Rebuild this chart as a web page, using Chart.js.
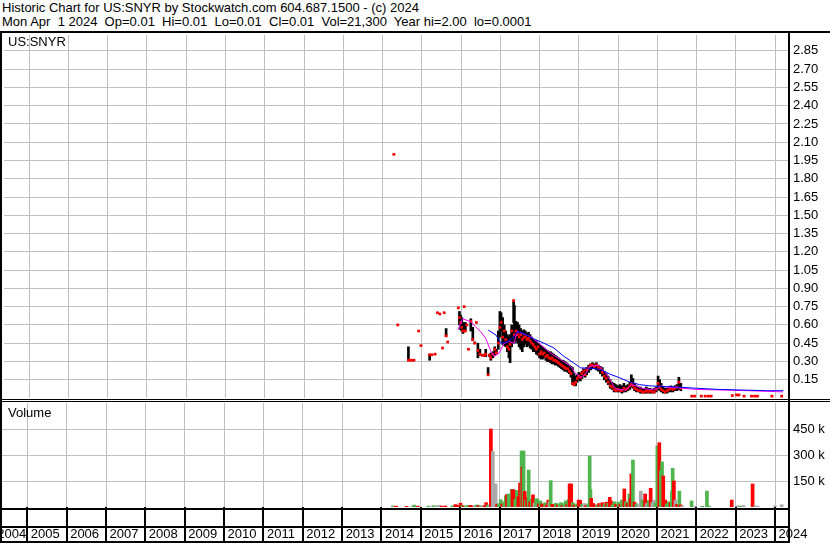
<!DOCTYPE html>
<html lang="en">
<head>
  <meta charset="UTF-8" />
  <title>Historic Chart for US:SNYR</title>
  <script src="https://cdn.jsdelivr.net/npm/chart.js"></script>
  <style>
    * { box-sizing: border-box; margin: 0; padding: 0; }
    body {
      width: 830px; height: 543px; position: relative; overflow: hidden;
      background: #fff; color: #000;
      font-family: 'Liberation Sans', Arial, sans-serif; font-size: 13px;
    }
    .header { position: absolute; left: 2px; top: 1px; line-height: 14.4px; white-space: pre; }
    .label { position: absolute; left: 8px; line-height: 14.4px; }
    canvas { position: absolute; left: 0; }
    .rule { position: absolute; background: #000; }
  </style>
</head>
<body>

<div class="header">Historic Chart for US:SNYR by Stockwatch.com 604.687.1500 - (c) 2024
Mon Apr  1 2024  Op=0.01  Hi=0.01  Lo=0.01  Cl=0.01  Vol=21,300  Year hi=2.00  lo=0.0001</div>

<canvas id="priceChart" width="830" height="371" style="top:31px"></canvas>
<canvas id="volumeChart" width="830" height="141" style="top:402px"></canvas>

<div class="label" style="top:35px">US:SNYR</div>
<div class="label" style="top:406px">Volume</div>

<!-- frame -->
<div class="rule" style="left:0;top:31px;width:830px;height:2px"></div>
<div class="rule" style="left:0;top:31px;width:2px;height:512px"></div>
<div class="rule" style="left:788px;top:31px;width:2px;height:512px"></div>
<div class="rule" style="left:0;top:399px;width:830px;height:1px"></div>
<div class="rule" style="left:0;top:401px;width:830px;height:1px"></div>
<div class="rule" style="left:0;top:508px;width:790px;height:2px"></div>
<div class="rule" style="left:0;top:526px;width:790px;height:2px"></div>
<div class="rule" style="left:0;top:541px;width:790px;height:2px"></div>

<script>
  // time axis in decimal years
  const xStart = 2004.357;
  const xEnd = 2024.33;
  const years = [2004, 2005, 2006, 2007, 2008, 2009, 2010, 2011, 2012, 2013, 2014,
                 2015, 2016, 2017, 2018, 2019, 2020, 2021, 2022, 2023, 2024];
  const firstYearLabelAt = 2004.15; // the 2004 cell is cut by the left edge

  const priceTicks = [0.15, 0.30, 0.45, 0.60, 0.75, 0.90, 1.05, 1.20, 1.35, 1.50,
                      1.65, 1.80, 1.95, 2.10, 2.25, 2.40, 2.55, 2.70, 2.85];
  const volumeTicks = [150000, 300000, 450000];

  // daily bars (sampled): date, high, low, close
  const priceDates = [
    2014.29, 2014.39, 2014.66, 2014.71, 2014.76, 2014.80, 2014.92, 2014.98,
    2015.20, 2015.26, 2015.34, 2015.40, 2015.46, 2015.53, 2015.57, 2015.62, 2015.66,
    2015.93, 2015.96, 2015.99, 2016.02, 2016.05, 2016.08, 2016.11, 2016.15, 2016.19,
    2016.25, 2016.30, 2016.35, 2016.39, 2016.43, 2016.48, 2016.54, 2016.60, 2016.63,
    2016.69, 2016.72, 2016.76, 2016.81, 2016.86, 2016.90, 2016.95, 2016.99,
    2017.02, 2017.06, 2017.10, 2017.14, 2017.18, 2017.22, 2017.25, 2017.29, 2017.34,
    2017.36, 2017.40, 2017.44, 2017.48, 2017.52, 2017.56, 2017.60, 2017.64, 2017.68,
    2017.72, 2017.76, 2017.80, 2017.84, 2017.88, 2017.92, 2017.96,
    2018.00, 2018.04, 2018.08, 2018.12, 2018.16, 2018.20, 2018.24, 2018.28, 2018.32,
    2018.36, 2018.40, 2018.44, 2018.48, 2018.52, 2018.56, 2018.60, 2018.64, 2018.68,
    2018.72, 2018.76, 2018.80, 2018.84, 2018.88, 2018.92, 2018.96,
    2019.00, 2019.04, 2019.08, 2019.12, 2019.16, 2019.20, 2019.25, 2019.30, 2019.35,
    2019.40, 2019.45, 2019.50, 2019.55, 2019.60, 2019.65, 2019.70, 2019.75, 2019.80,
    2019.85, 2019.90, 2019.95,
    2020.00, 2020.05, 2020.10, 2020.15, 2020.20, 2020.25, 2020.30, 2020.34, 2020.38,
    2020.42, 2020.47, 2020.52, 2020.57, 2020.62, 2020.67, 2020.72, 2020.77, 2020.82,
    2020.87, 2020.92, 2020.97,
    2021.02, 2021.06, 2021.10, 2021.15, 2021.20, 2021.25, 2021.30, 2021.35, 2021.40,
    2021.45, 2021.50, 2021.55, 2021.60,
    2021.88, 2021.95, 2022.12, 2022.22, 2022.30, 2022.37,
    2022.91, 2023.02, 2023.08, 2023.21, 2023.40, 2023.48, 2023.55, 2023.92, 2024.17
  ];
  const priceHigh = [
    2.00, 0.60, 0.42, 0.31, 0.31, 0.31, 0.55, 0.43,
    0.36, 0.355, 0.36, 0.70, 0.69, 0.41, 0.70, 0.57, 0.46,
    0.74, 0.71, 0.68, 0.66, 0.62, 0.75, 0.62, 0.60, 0.40,
    0.65, 0.58, 0.46, 0.62, 0.45, 0.40, 0.36, 0.36, 0.40,
    0.25, 0.36, 0.37, 0.38, 0.42, 0.40, 0.55, 0.71,
    0.70, 0.66, 0.60, 0.55, 0.52, 0.50, 0.52, 0.60, 0.80,
    0.76, 0.63, 0.62, 0.60, 0.57, 0.55, 0.56, 0.55, 0.53,
    0.54, 0.52, 0.50, 0.48, 0.47, 0.47, 0.45,
    0.44, 0.43, 0.42, 0.41, 0.40, 0.39, 0.38, 0.38, 0.37,
    0.36, 0.35, 0.34, 0.33, 0.32, 0.31, 0.31, 0.30, 0.29,
    0.28, 0.27, 0.26, 0.25, 0.20, 0.18, 0.19,
    0.21, 0.20, 0.22, 0.24, 0.23, 0.25, 0.27, 0.28, 0.29,
    0.28, 0.29, 0.27, 0.26, 0.25, 0.22, 0.20, 0.18, 0.15,
    0.13, 0.12, 0.11,
    0.10, 0.11, 0.10, 0.12, 0.10, 0.11, 0.13, 0.19, 0.16,
    0.12, 0.10, 0.09, 0.09, 0.08, 0.08, 0.09, 0.08, 0.08,
    0.07, 0.08, 0.09,
    0.18, 0.15, 0.12, 0.09, 0.08, 0.08, 0.09, 0.10, 0.09,
    0.10, 0.11, 0.17, 0.12,
    0.02, 0.02, 0.02, 0.02, 0.02, 0.02,
    0.02, 0.03, 0.03, 0.02, 0.02, 0.02, 0.02, 0.02, 0.02
  ];
  const priceLow = [
    2.00, 0.60, 0.31, 0.31, 0.31, 0.31, 0.55, 0.43,
    0.31, 0.355, 0.36, 0.70, 0.69, 0.41, 0.70, 0.505, 0.46,
    0.74, 0.60, 0.56, 0.55, 0.53, 0.75, 0.55, 0.60, 0.40,
    0.55, 0.47, 0.45, 0.62, 0.33, 0.35, 0.35, 0.34, 0.34,
    0.19, 0.34, 0.31, 0.33, 0.35, 0.36, 0.40, 0.50,
    0.55, 0.44, 0.43, 0.42, 0.38, 0.33, 0.29, 0.42, 0.62,
    0.45, 0.47, 0.45, 0.42, 0.40, 0.38, 0.42, 0.44, 0.42,
    0.43, 0.41, 0.40, 0.38, 0.38, 0.36, 0.35,
    0.33, 0.32, 0.32, 0.33, 0.31, 0.30, 0.30, 0.29, 0.28,
    0.28, 0.27, 0.27, 0.26, 0.25, 0.24, 0.23, 0.22, 0.22,
    0.21, 0.20, 0.17, 0.11, 0.10, 0.10, 0.13,
    0.15, 0.14, 0.16, 0.18, 0.17, 0.19, 0.21, 0.23, 0.24,
    0.24, 0.23, 0.22, 0.20, 0.18, 0.15, 0.13, 0.11, 0.08,
    0.07, 0.05, 0.05,
    0.05, 0.05, 0.04, 0.05, 0.05, 0.06, 0.07, 0.09, 0.08,
    0.06, 0.05, 0.05, 0.04, 0.04, 0.04, 0.04, 0.04, 0.04,
    0.04, 0.04, 0.05,
    0.07, 0.06, 0.05, 0.04, 0.04, 0.04, 0.05, 0.05, 0.05,
    0.06, 0.06, 0.07, 0.06,
    0.015, 0.015, 0.015, 0.015, 0.015, 0.015,
    0.02, 0.025, 0.025, 0.015, 0.015, 0.015, 0.015, 0.015, 0.015
  ];
  const priceClose = [
    2.00, 0.60, 0.31, 0.31, 0.31, 0.31, 0.55, 0.43,
    0.355, 0.355, 0.36, 0.70, 0.69, 0.41, 0.70, 0.51, 0.46,
    0.74, 0.66, 0.62, 0.58, 0.55, 0.75, 0.55, 0.60, 0.40,
    0.63, 0.48, 0.45, 0.62, 0.39, 0.36, 0.35, 0.35, 0.36,
    0.19, 0.35, 0.33, 0.36, 0.40, 0.37, 0.45, 0.58,
    0.62, 0.50, 0.55, 0.48, 0.42, 0.40, 0.44, 0.55, 0.80,
    0.52, 0.55, 0.52, 0.50, 0.52, 0.48, 0.50, 0.50, 0.48,
    0.49, 0.47, 0.45, 0.44, 0.42, 0.40, 0.42,
    0.36, 0.38, 0.36, 0.37, 0.34, 0.35, 0.33, 0.32, 0.33,
    0.31, 0.31, 0.30, 0.29, 0.28, 0.27, 0.26, 0.25, 0.24,
    0.24, 0.22, 0.20, 0.12, 0.11, 0.13, 0.16,
    0.18, 0.17, 0.20, 0.22, 0.19, 0.23, 0.25, 0.27, 0.27,
    0.26, 0.27, 0.25, 0.24, 0.21, 0.18, 0.16, 0.13, 0.10,
    0.09, 0.07, 0.06,
    0.07, 0.06, 0.06, 0.08, 0.07, 0.08, 0.10, 0.12, 0.10,
    0.08, 0.07, 0.06, 0.06, 0.05, 0.05, 0.06, 0.05, 0.06,
    0.05, 0.05, 0.07,
    0.12, 0.09, 0.07, 0.06, 0.05, 0.06, 0.07, 0.08, 0.07,
    0.08, 0.09, 0.13, 0.08,
    0.015, 0.015, 0.015, 0.015, 0.015, 0.015,
    0.02, 0.025, 0.025, 0.015, 0.015, 0.015, 0.015, 0.015, 0.015
  ];

  // moving averages
  const fastDates = [
    2015.92, 2016.04, 2016.25, 2016.37, 2016.50, 2016.63, 2016.76, 2016.84, 2016.97,
    2017.10, 2017.22, 2017.35, 2017.43, 2017.55, 2017.78, 2018.03, 2018.28, 2018.54,
    2018.79, 2018.92, 2019.05, 2019.15, 2019.30, 2019.50, 2019.65, 2019.80, 2019.90,
    2020.00, 2020.20, 2020.35, 2020.45, 2020.60, 2020.80, 2021.00, 2021.10, 2021.30,
    2021.50, 2021.65, 2022.00, 2022.70, 2023.30, 2023.80, 2024.20
  ];
  const fastValues = [
    0.56, 0.65, 0.626, 0.585, 0.545, 0.49, 0.383, 0.342, 0.369,
    0.45, 0.464, 0.45, 0.545, 0.53, 0.504, 0.436, 0.369, 0.315,
    0.261, 0.20, 0.17, 0.19, 0.26, 0.27, 0.22, 0.15, 0.09,
    0.07, 0.065, 0.11, 0.10, 0.08, 0.07, 0.075, 0.10, 0.085,
    0.085, 0.08, 0.07, 0.065, 0.06, 0.055, 0.05
  ];
  const slowDates = [
    2016.69, 2016.89, 2017.01, 2017.18, 2017.35, 2017.44, 2017.60, 2017.82, 2018.11,
    2018.37, 2018.62, 2018.87, 2019.05, 2019.30, 2019.55, 2019.80, 2020.05, 2020.30,
    2020.55, 2020.80, 2021.10, 2021.50, 2022.00, 2022.60, 2023.20, 2023.80, 2024.21
  ];
  const slowValues = [
    0.558, 0.517, 0.45, 0.46, 0.504, 0.545, 0.53, 0.49, 0.45,
    0.41, 0.342, 0.288, 0.247, 0.245, 0.235, 0.195, 0.165, 0.13,
    0.11, 0.10, 0.095, 0.09, 0.08, 0.07, 0.065, 0.06, 0.06
  ];

  // volume: g = up, r = down, n = unchanged
  const volDates = [
    2014.29, 2014.37, 2014.64, 2014.78, 2014.83, 2014.92, 2015.19, 2015.30, 2015.33,
    2015.42, 2015.47, 2015.53, 2015.62, 2015.81, 2015.88, 2015.92, 2016.01, 2016.05,
    2016.09, 2016.14, 2016.20, 2016.26, 2016.32, 2016.37, 2016.42, 2016.47, 2016.52,
    2016.57, 2016.62, 2016.66, 2016.70, 2016.75, 2016.78, 2016.83, 2016.86, 2016.90,
    2016.94, 2016.98, 2017.03, 2017.07, 2017.12, 2017.16, 2017.19, 2017.23, 2017.27,
    2017.31, 2017.33, 2017.37, 2017.40, 2017.44, 2017.48, 2017.52, 2017.56, 2017.58,
    2017.61, 2017.64, 2017.67, 2017.70, 2017.74, 2017.78, 2017.82, 2017.85, 2017.89,
    2017.93, 2017.96, 2018.00, 2018.04, 2018.08, 2018.12, 2018.16, 2018.20, 2018.24,
    2018.27, 2018.30, 2018.34, 2018.38, 2018.43, 2018.48, 2018.52, 2018.56, 2018.60,
    2018.64, 2018.68, 2018.72, 2018.75, 2018.78, 2018.82, 2018.86, 2018.90, 2018.95,
    2019.01, 2019.05, 2019.10, 2019.15, 2019.20, 2019.25, 2019.29, 2019.31, 2019.33,
    2019.38, 2019.43, 2019.48, 2019.53, 2019.58, 2019.62, 2019.67, 2019.72, 2019.76,
    2019.80, 2019.83, 2019.87, 2019.92, 2019.96, 2020.02, 2020.07, 2020.11, 2020.17,
    2020.21, 2020.25, 2020.30, 2020.33, 2020.35, 2020.39, 2020.43, 2020.48, 2020.53,
    2020.59, 2020.63, 2020.70, 2020.74, 2020.79, 2020.84, 2020.88, 2020.92, 2020.96,
    2021.01, 2021.06, 2021.10, 2021.13, 2021.16, 2021.21, 2021.25, 2021.30, 2021.35,
    2021.38, 2021.40, 2021.43, 2021.47, 2021.51, 2021.57, 2021.60, 2021.64, 2021.88,
    2021.98, 2022.15, 2022.27, 2022.32, 2022.90, 2023.05, 2023.12, 2023.20, 2023.43,
    2023.50, 2023.56, 2024.00, 2024.17
  ];
  const volValues = [
    6000, 5000, 4000, 4000, 11000, 5000, 5000, 6000, 7000,
    8000, 9000, 5000, 6000, 7000, 14000, 10000, 22000, 8000,
    6000, 5000, 10000, 9000, 6000, 8000, 12000, 8000, 5000,
    9000, 7000, 25000, 12000, 8000, 450000, 320000, 62000, 133000,
    15000, 20000, 42000, 18000, 30000, 65000, 72000, 75000, 38000,
    102000, 100000, 98000, 45000, 96000, 60000, 138000, 323000, 230000,
    323000, 90000, 40000, 55000, 213000, 30000, 45000, 70000, 22000,
    48000, 45000, 18000, 35000, 18000, 12000, 25000, 10000, 40000,
    30000, 152000, 15000, 10000, 22000, 12000, 18000, 25000, 10000,
    20000, 35000, 15000, 42000, 133000, 133000, 25000, 12000, 18000,
    40000, 38000, 15000, 20000, 8000, 18000, 294000, 100000, 50000,
    20000, 12000, 10000, 20000, 12000, 25000, 18000, 28000, 22000,
    56000, 35000, 12000, 30000, 15000, 28000, 15000, 40000, 104000,
    30000, 22000, 75000, 50000, 190000, 271000, 28000, 18000, 12000,
    92000, 40000, 75000, 20000, 38000, 108000, 25000, 40000, 22000,
    352000, 371000, 210000, 260000, 179000, 40000, 18000, 30000, 25000,
    92000, 223000, 150000, 40000, 15000, 92000, 12000, 6000, 35000,
    5000, 4000, 92000, 5000, 40000, 7000, 5000, 8000, 133000,
    6000, 5000, 6000, 13000
  ];
  const volColors = [
    'g', 'r', 'r', 'n', 'g', 'r', 'g', 'n', 'g',
    'n', 'n', 'r', 'r', 'g', 'r', 'r', 'r', 'g',
    'r', 'g', 'g', 'r', 'r', 'n', 'g', 'r', 'g',
    'n', 'r', 'r', 'g', 'n', 'r', 'n', 'n', 'n',
    'r', 'g', 'g', 'r', 'g', 'g', 'r', 'g', 'g',
    'g', 'r', 'r', 'g', 'g', 'r', 'r', 'g', 'r',
    'g', 'r', 'g', 'r', 'g', 'r', 'g', 'r', 'n',
    'g', 'g', 'r', 'g', 'r', 'r', 'g', 'r', 'r',
    'n', 'g', 'r', 'r', 'g', 'r', 'g', 'g', 'r',
    'g', 'g', 'r', 'g', 'r', 'r', 'g', 'r', 'g',
    'r', 'r', 'g', 'n', 'r', 'g', 'g', 'g', 'r',
    'r', 'r', 'g', 'r', 'g', 'r', 'g', 'r', 'g',
    'r', 'r', 'g', 'g', 'r', 'g', 'r', 'g', 'r',
    'g', 'r', 'g', 'r', 'r', 'g', 'r', 'g', 'n',
    'n', 'g', 'r', 'n', 'g', 'r', 'n', 'n', 'g',
    'g', 'r', 'g', 'g', 'r', 'r', 'g', 'g', 'r',
    'g', 'g', 'r', 'n', 'r', 'g', 'r', 'n', 'g',
    'n', 'g', 'g', 'g', 'r', 'n', 'g', 'n', 'r',
    'n', 'n', 'n', 'n'
  ];
  const volPalette = { g: '#4fb64f', r: '#ff0000', n: '#a9a9a9' };

  const font = { family: "'Liberation Sans', Arial, sans-serif", size: 13 };
  const gridColor = '#c0c0c0';

  function sideAxis(width) {
    return (scale) => { scale.width = width; scale.paddingTop = 0; scale.paddingBottom = 0; };
  }
  function bottomAxis(height) {
    return (scale) => { scale.height = height; scale.paddingLeft = 0; scale.paddingRight = 0; };
  }
  const xy = (xs, ys) => xs.map((x, i) => ({ x: x, y: ys[i] }));

  const common = {
    responsive: false,
    devicePixelRatio: 1,
    animation: false,
    events: [],
    plugins: { legend: { display: false }, tooltip: { enabled: false } }
  };

  // price panel
  new Chart(document.getElementById('priceChart'), {
    type: 'scatter',
    data: {
      datasets: [
        { type: 'line', data: xy(slowDates, slowValues), borderColor: '#0000ff',
          borderWidth: 1, pointRadius: 0, tension: 0, order: 0 },
        { type: 'line', data: xy(fastDates, fastValues), borderColor: '#ff00ff',
          borderWidth: 1, pointRadius: 0, tension: 0, order: 1 },
        { type: 'scatter', data: xy(priceDates, priceClose), pointStyle: 'rect',
          pointRadius: 1.9, pointBackgroundColor: '#ff0000', pointBorderWidth: 0, order: 2 },
        { type: 'bar', data: priceDates.map((t, i) => ({ x: t, y: [priceLow[i], priceHigh[i]] })),
          backgroundColor: '#000000', barThickness: 2, order: 3 }
      ]
    },
    options: {
      ...common,
      layout: { padding: { left: 2, top: 2, right: 0, bottom: 1.5 } },
      scales: {
        x: {
          type: 'linear', min: xStart, max: xEnd, offset: false,
          afterBuildTicks: (s) => { s.ticks = years.slice(1).map(v => ({ value: v })); },
          afterFit: bottomAxis(0),
          grid: { color: gridColor, lineWidth: 1, drawTicks: false, offset: false },
          border: { display: false },
          ticks: { display: false }
        },
        y: {
          type: 'linear', position: 'right', min: 0, max: 2.98,
          afterBuildTicks: (s) => { s.ticks = priceTicks.map(v => ({ value: v })); },
          afterFit: sideAxis(42),
          grid: { color: gridColor, lineWidth: 1, drawTicks: false },
          border: { display: false },
          ticks: { color: '#000', font: font, padding: 5, callback: v => v.toFixed(2) }
        }
      }
    }
  });

  // black separators in the year band below the volume panel
  const yearBand = {
    id: 'yearBand',
    afterDraw(chart) {
      const { ctx, chartArea } = chart;
      const x = chart.scales.x;
      ctx.save();
      ctx.fillStyle = '#000';
      years.slice(1).forEach(v => {
        const px = Math.round(x.getPixelForValue(v));
        ctx.fillRect(px - 1, chartArea.bottom, 2, chart.height - chartArea.bottom);
      });
      ctx.restore();
    }
  };

  // volume panel
  new Chart(document.getElementById('volumeChart'), {
    type: 'scatter',
    data: {
      datasets: [
        { type: 'bar', data: xy(volDates, volValues),
          backgroundColor: volColors.map(c => volPalette[c]), barThickness: 3 }
      ]
    },
    options: {
      ...common,
      layout: { padding: { left: 2, top: 1, right: 0, bottom: 0 } },
      scales: {
        x: {
          type: 'linear', min: xStart, max: xEnd, offset: false,
          afterBuildTicks: (s) => {
            s.ticks = years.map(v => ({ value: v === 2004 ? firstYearLabelAt : v }));
          },
          afterFit: bottomAxis(36),
          grid: { color: gridColor, lineWidth: 1, drawTicks: false, offset: false },
          border: { display: false },
          ticks: {
            color: '#000', font: font, padding: 20, align: 'start', labelOffset: 3.5,
            autoSkip: false, maxRotation: 0, minRotation: 0,
            callback: v => String(Math.floor(v))
          }
        },
        y: {
          type: 'linear', position: 'right', min: 0, max: 600000,
          afterBuildTicks: (s) => { s.ticks = volumeTicks.map(v => ({ value: v })); },
          afterFit: sideAxis(42),
          grid: { color: gridColor, lineWidth: 1, drawTicks: false },
          border: { display: false },
          ticks: { color: '#000', font: font, padding: 5, callback: v => (v / 1000) + ' k' }
        }
      }
    },
    plugins: [yearBand]
  });
</script>

</body>
</html>
